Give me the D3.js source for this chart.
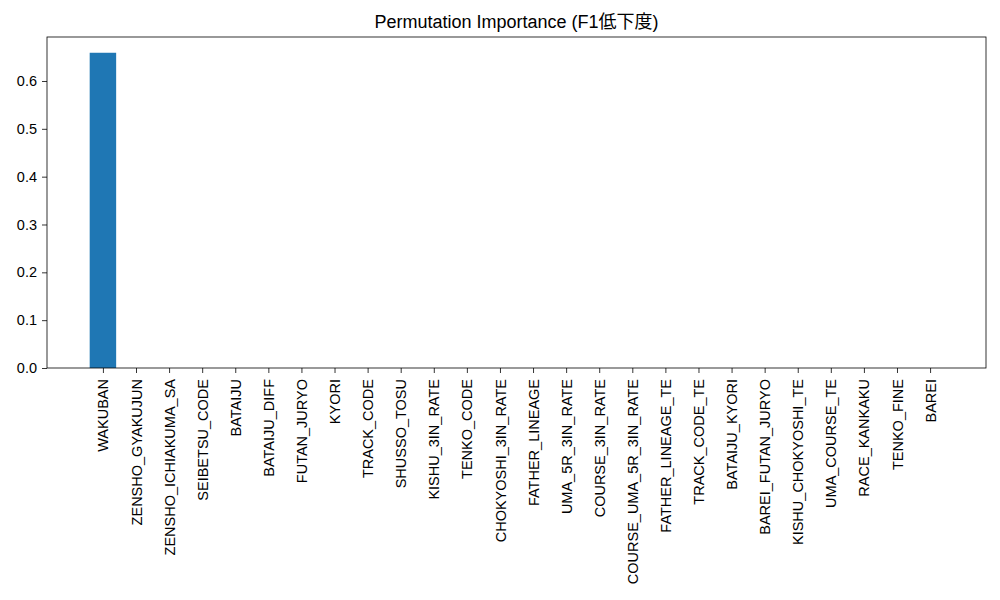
<!DOCTYPE html>
<html><head><meta charset="utf-8">
<script src="https://cdn.jsdelivr.net/npm/d3@7"></script>
<style>body{margin:0;background:#fff;} text{font-family:"Liberation Sans","Noto Sans CJK JP",sans-serif;}</style>
</head><body>
<svg id="c" width="1000" height="600"></svg>
<script>
const features = ["WAKUBAN","ZENSHO_GYAKUJUN","ZENSHO_ICHIAKUMA_SA","SEIBETSU_CODE","BATAIJU","BATAIJU_DIFF","FUTAN_JURYO","KYORI","TRACK_CODE","SHUSSO_TOSU","KISHU_3IN_RATE","TENKO_CODE","CHOKYOSHI_3IN_RATE","FATHER_LINEAGE","UMA_5R_3IN_RATE","COURSE_3IN_RATE","COURSE_UMA_5R_3IN_RATE","FATHER_LINEAGE_TE","TRACK_CODE_TE","BATAIJU_KYORI","BAREI_FUTAN_JURYO","KISHU_CHOKYOSHI_TE","UMA_COURSE_TE","RACE_KANKAKU","TENKO_FINE","BAREI"];
const importance = [0.659,0,0,0,0,0,0,0,0,0,0,0,0,0,0,0,0,0,0,0,0,0,0,0,0,0];
const yTicks = [0,0.1,0.2,0.3,0.4,0.5,0.6];
const title = "Permutation Importance (F1低下度)";

const L=47,R=986,T=37,B=368;
const svg=d3.select("#c");
const n=features.length;
const x=d3.scaleLinear().domain([-1.69,n-1+1.69]).range([L,R]);
const maxV=d3.max(importance);
const y=d3.scaleLinear().domain([0,maxV*1.05]).range([B,T]);
const bw=x(0.8)-x(0);

svg.append("g").selectAll("rect").data(importance).join("rect")
  .attr("x",(d,i)=>x(i-0.4)).attr("width",bw)
  .attr("y",d=>y(d)).attr("height",d=>B-y(d))
  .attr("fill","#1f77b4");

const xa=svg.append("g").attr("transform",`translate(0,${B})`)
  .call(d3.axisBottom(x).tickValues(d3.range(n)).tickFormat(i=>features[i]).tickSizeOuter(0).tickSize(5));
xa.select(".domain").remove();
xa.selectAll("line").attr("stroke","#000").attr("stroke-width",0.8);
xa.selectAll("text").attr("font-size",14.5).attr("fill","#000")
  .attr("transform","rotate(-90)").attr("text-anchor","end")
  .attr("x",-11).attr("y",0).attr("dy","0.35em");

const ya=svg.append("g").attr("transform",`translate(${L},0)`)
  .call(d3.axisLeft(y).tickValues(yTicks).tickFormat(d3.format(".1f")).tickSizeOuter(0).tickSize(5));
ya.select(".domain").remove();
ya.selectAll("line").attr("stroke","#000").attr("stroke-width",0.8);
ya.selectAll("text").attr("font-size",14.5).attr("fill","#000").attr("x",-10);

svg.append("rect").attr("x",L).attr("y",T).attr("width",R-L).attr("height",B-T)
  .attr("fill","none").attr("stroke","#000").attr("stroke-width",0.8);

svg.append("text").attr("x",(L+R)/2).attr("y",T-9).attr("text-anchor","middle")
  .attr("font-size",18).attr("fill","#000").text(title);
</script>
</body></html>
